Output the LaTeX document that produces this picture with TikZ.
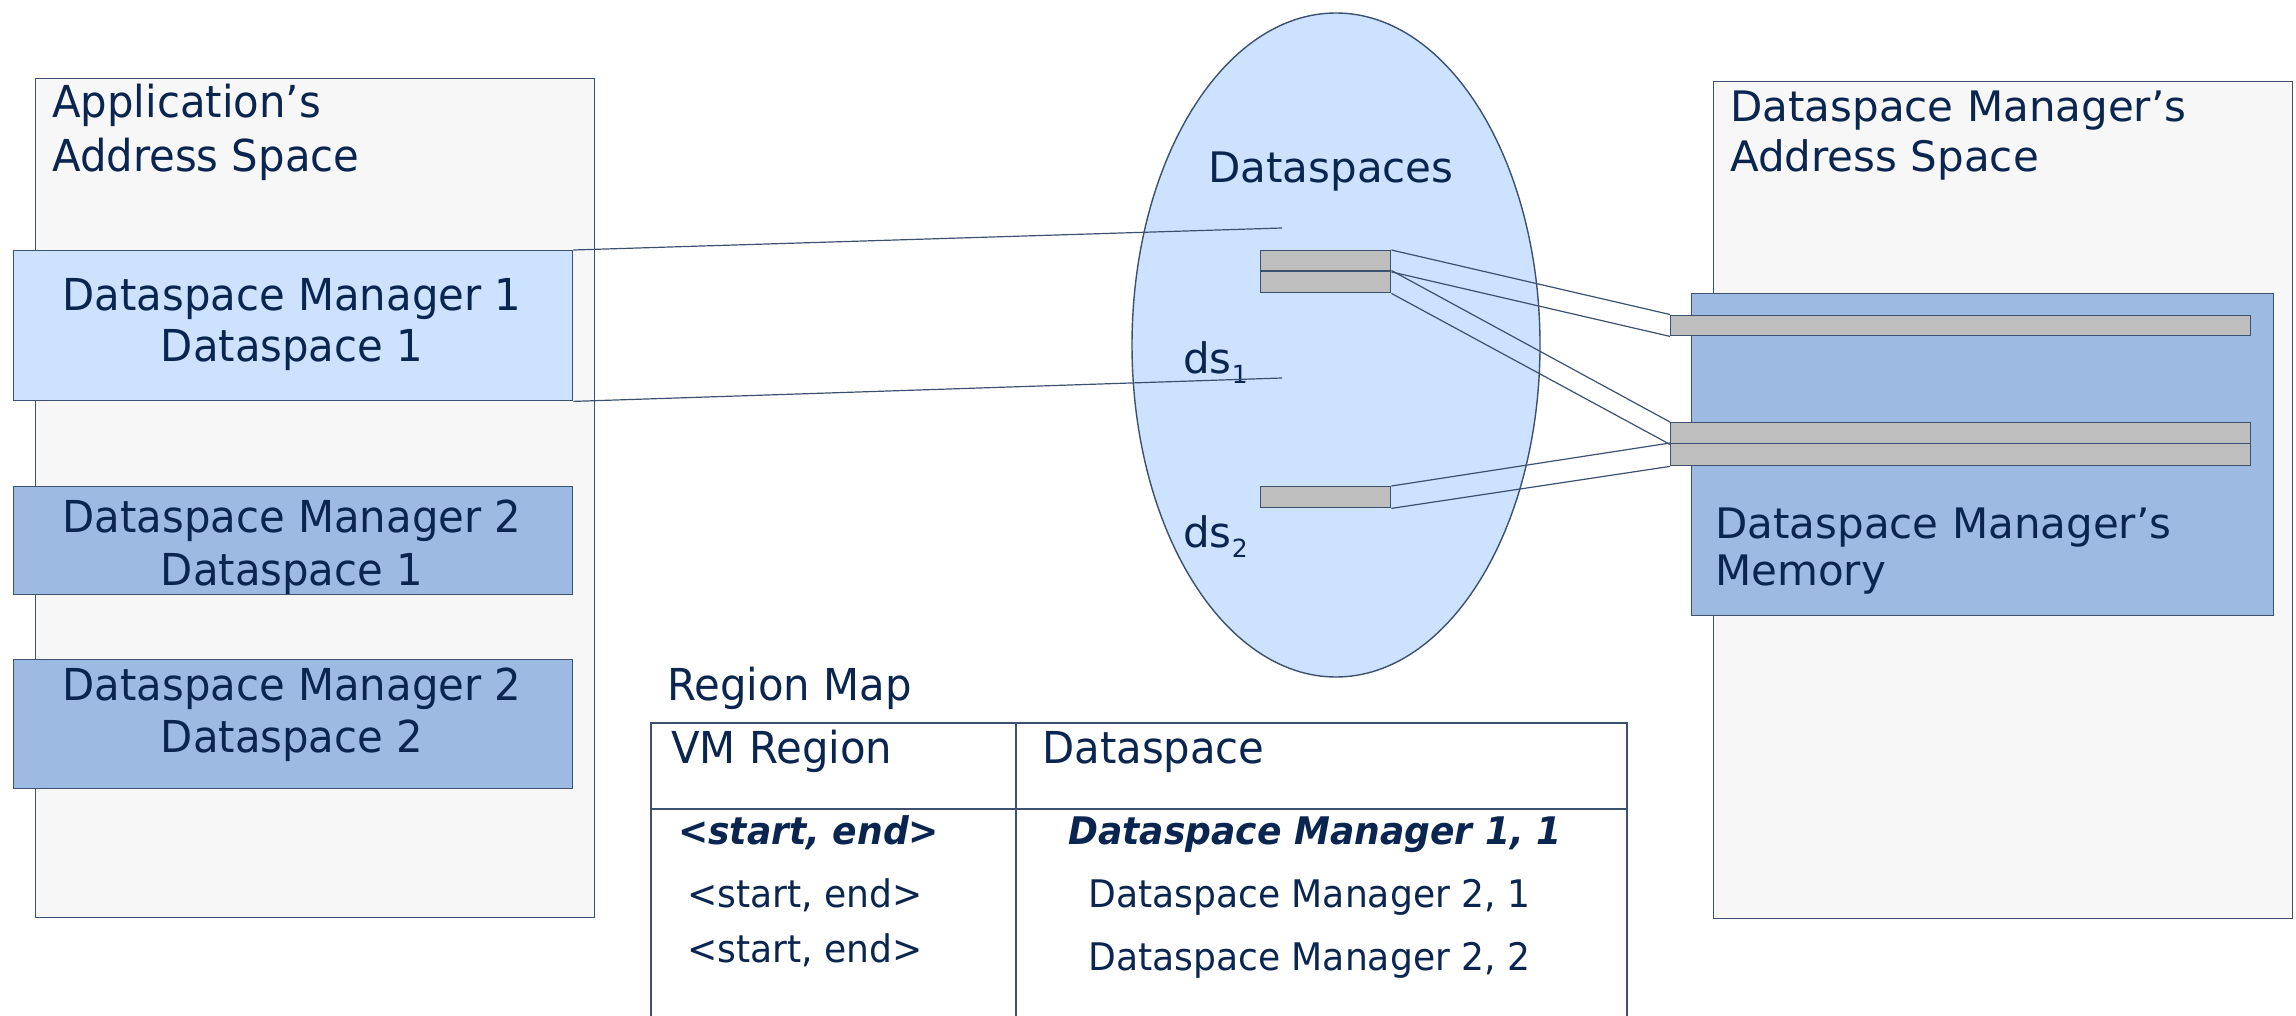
\documentclass[tikz,border=0pt]{standalone}
\usepackage{fontspec}
\setmainfont{DejaVu Sans}
\newfontfamily\tah[FakeStretch=0.95]{DejaVu Sans}
\usetikzlibrary{shapes.geometric}
\definecolor{navy}{RGB}{10,38,80}
\definecolor{edgec}{RGB}{60,80,112}
\definecolor{pale}{RGB}{247,247,247}
\definecolor{lightblue}{RGB}{204,226,255}
\definecolor{midblue}{RGB}{157,187,226}
\definecolor{barc}{RGB}{190,190,190}
\tikzset{
  box/.style={draw=edgec, line width=1.4pt, rectangle, inner sep=0pt, anchor=north west},
  barbox/.style={box, fill=barc},
  conn/.style={draw=edgec, line width=1.2pt},
  big/.style={text=navy, inner sep=0pt, font=\tah\fontsize{44}{52}\selectfont},
  small/.style={text=navy, inner sep=0pt, font=\tah\fontsize{38}{46}\selectfont},
  smallbi/.style={text=navy, inner sep=0pt, font=\tah\bfseries\itshape\fontsize{38}{46}\selectfont},
  verd/.style={text=navy, inner sep=0pt, font=\fontsize{42}{50}\selectfont},
}
\begin{document}
\begin{tikzpicture}[x=1pt,y=-1pt]
\path[use as bounding box] (0,0) rectangle (2296,1016);

% Application's address space
\node[box, fill=pale, minimum width=559pt, minimum height=839pt] (app) at (35,78) {};
\node[big, anchor=base west] (appt1) at (52,118) {Application’s};
\node[big, anchor=base west] (appt2) at (52,172) {Address Space};

\node[box, fill=lightblue, minimum width=559pt, minimum height=150pt] (dm1) at (13,250) {};
\node[big, anchor=base] (dm1t1) at (292,310) {Dataspace Manager 1};
\node[big, anchor=base] (dm1t2) at (292,361) {Dataspace 1};

\node[box, fill=midblue, minimum width=559pt, minimum height=108pt] (dm21) at (13,486) {};
\node[big, anchor=base] (dm21t1) at (292,532) {Dataspace Manager 2};
\node[big, anchor=base] (dm21t2) at (292,585) {Dataspace 1};

\node[box, fill=midblue, minimum width=559pt, minimum height=129pt] (dm22) at (13,659) {};
\node[big, anchor=base] (dm22t1) at (292,700) {Dataspace Manager 2};
\node[big, anchor=base] (dm22t2) at (292,752) {Dataspace 2};

% Dataspace manager's address space
\node[box, fill=pale, minimum width=579pt, minimum height=837pt] (mas) at (1713,81) {};
\node[verd, anchor=base west] (mast1) at (1730,122) {Dataspace Manager’s};
\node[verd, anchor=base west] (mast2) at (1730,172) {Address Space};

\node[box, fill=midblue, minimum width=582pt, minimum height=322pt] (mem) at (1691,293) {};
\node[verd, anchor=base west] (memt1) at (1715,538) {Dataspace Manager’s};
\node[verd, anchor=base west] (memt2) at (1715,585) {Memory};

\node[barbox, minimum width=580pt, minimum height=20.5pt] (mb1) at (1670,314.5) {};
\node[barbox, minimum width=580pt, minimum height=21pt] (mb2a) at (1670,422) {};
\node[barbox, minimum width=580pt, minimum height=22pt] (mb2b) at (1670,443) {};

% Dataspaces ellipse
\node[ellipse, draw=edgec, line width=1.4pt, fill=lightblue, minimum width=408pt, minimum height=664pt, inner sep=0pt] (ell) at (1336,345) {};
\node[verd, anchor=base west] (dst) at (1208,183) {Dataspaces};
\node[verd, anchor=base west] (ds1) at (1183,373) {ds\raisebox{-0.25em}{\fontsize{25}{30}\selectfont 1}};
\node[verd, anchor=base west] (ds2) at (1183,547) {ds\raisebox{-0.25em}{\fontsize{25}{30}\selectfont 2}};

\node[barbox, minimum width=130pt, minimum height=20.5pt] (ub1) at (1260,250) {};
\node[barbox, minimum width=130pt, minimum height=21.5pt] (ub2) at (1260,270.5) {};
\node[barbox, minimum width=130pt, minimum height=21pt] (lb) at (1260,486) {};

% connectors
\coordinate (e1) at (1282,228);
\coordinate (e2) at (1282,378);
\draw[conn] (dm1.north east) -- (e1);
\draw[conn] (dm1.south east) -- (e2);

\draw[conn] (ub1.north east) -- (mb1.north west);
\draw[conn] (ub1.south east) -- (mb1.south west);
\draw[conn] (ub2.north east) -- (mb2a.north west);
\draw[conn] (ub2.south east) -- (mb2a.south west);
\draw[conn] (lb.north east) -- (mb2b.north west);
\draw[conn] (lb.south east) -- (mb2b.south west);

% Region map
\node[big, anchor=base west] (rmt) at (667,700) {Region Map};
\coordinate (tbl) at (651,1016);
\coordinate (ttl) at (651,723);
\coordinate (ttr) at (1627,723);
\coordinate (tbr) at (1627,1016);
\coordinate (hl) at (651,809);
\coordinate (hr) at (1627,809);
\coordinate (ct) at (1016,723);
\coordinate (cb) at (1016,1016);
\draw[conn, line width=1.4pt] (tbl) -- (ttl) -- (ttr) -- (tbr);
\draw[conn, line width=1.4pt] (hl) -- (hr);
\draw[conn, line width=1.4pt] (ct) -- (cb);

\node[big, anchor=base west] (h1) at (671,763) {VM Region};
\node[big, anchor=base west] (h2) at (1042,763) {Dataspace};
\node[smallbi, anchor=base west] (r1a) at (678,844) {<start, end>};
\node[smallbi, anchor=base west] (r1b) at (1068,844) {Dataspace Manager 1, 1};
\node[small, anchor=base west] (r2a) at (687,907) {<start, end>};
\node[small, anchor=base west] (r2b) at (1088,907) {Dataspace Manager 2, 1};
\node[small, anchor=base west] (r3a) at (687,962) {<start, end>};
\node[small, anchor=base west] (r3b) at (1088,970) {Dataspace Manager 2, 2};
\end{tikzpicture}
\end{document}
